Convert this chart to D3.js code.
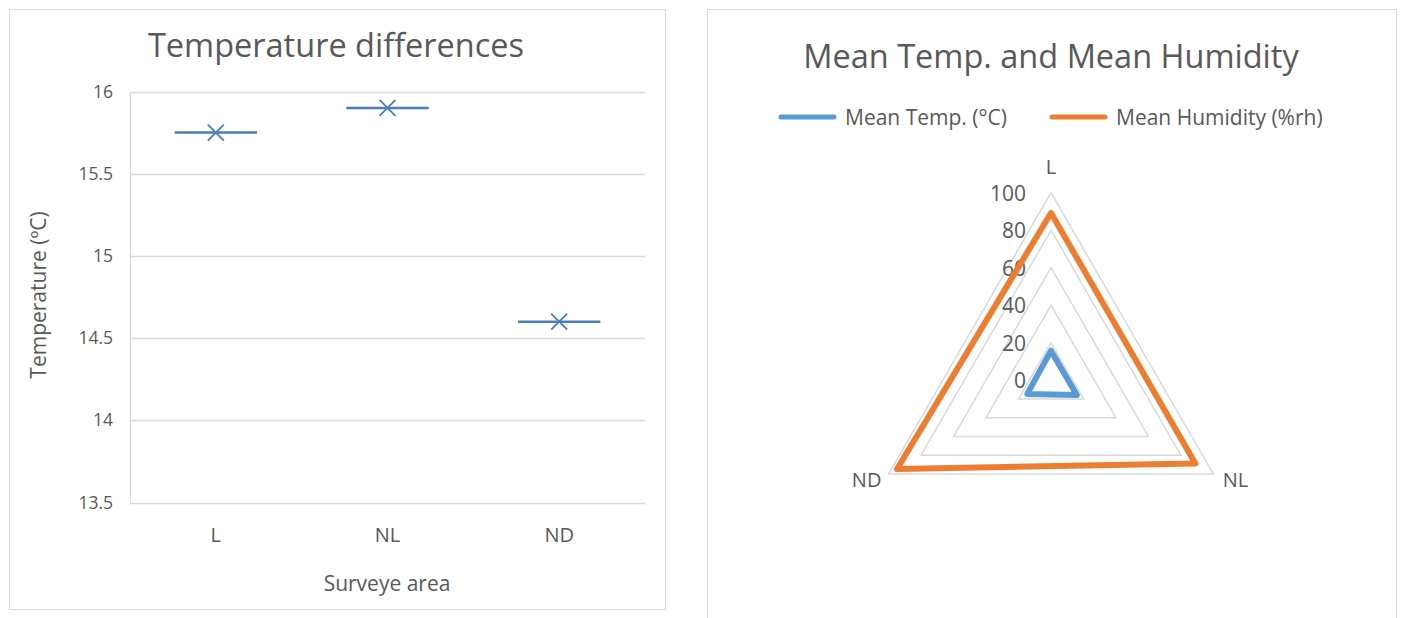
<!DOCTYPE html>
<html>
<head>
<meta charset="utf-8">
<script src="https://cdn.jsdelivr.net/npm/d3@7"></script>
<style>
  body { margin: 0; background: #fff; }
  svg { display: block; }
  text { font-family: "Open Sans", sans-serif; fill: #595959; }
</style>
</head>
<body>
<svg id="chart" width="1401" height="618"></svg>
<script>
// Survey areas and measured means
const areas = ["L", "NL", "ND"];
const meanTemp = [15.75, 15.90, 14.60];
const meanHumidity = [89.2, 88.9, 94.8];
const tempTicks = [13.5, 14, 14.5, 15, 15.5, 16];
const radarTicks = [0, 20, 40, 60, 80, 100];
const seriesNames = ["Mean Temp. (°C)", "Mean Humidity (%rh)"];
const seriesColors = ["#5B9BD5", "#ED7D31"];

const svg = d3.select("#chart");
const grid = "#d9d9d9";
const FONT = "\"Open Sans\", sans-serif";

// ---------- Left panel: temperature by area ----------
const left = svg.append("g");
left.append("rect").attr("x", 9.5).attr("y", 9.5).attr("width", 656).attr("height", 600)
  .attr("fill", "#fff").attr("stroke", grid).attr("stroke-width", 1);

left.append("text").attr("x", 336).attr("y", 44).attr("text-anchor", "middle")
  .attr("dominant-baseline", "central").style("font-size", "32.5px")
  .text("Temperature differences");

const x = d3.scaleBand().domain(areas).range([130, 645]).padding(0);
const y = d3.scaleLinear().domain([13.5, 16]).range([502.5, 91.5]);

// horizontal gridlines
left.append("g").selectAll("line").data(tempTicks).join("line")
  .attr("x1", 130).attr("x2", 645)
  .attr("y1", d => Math.round(y(d)) + 0.5).attr("y2", d => Math.round(y(d)) + 0.5)
  .attr("stroke", grid).attr("stroke-width", 1.3);

// value axis line
left.append("line").attr("x1", 130.5).attr("x2", 130.5)
  .attr("y1", y(16)).attr("y2", y(13.5)).attr("stroke", grid).attr("stroke-width", 1.3);

// tick labels
const yAxis = d3.axisLeft(y).tickValues(tempTicks).tickSize(0).tickPadding(17)
  .tickFormat(d3.format(""));
const ya = left.append("g").attr("transform", "translate(130,0)").call(yAxis);
ya.select(".domain").remove();
ya.selectAll("text").style("font-size", "17.5px").style("font-family", FONT).attr("fill", "#595959");

const xAxis = d3.axisBottom(x).tickSize(0).tickPadding(25);
const xa = left.append("g").attr("transform", "translate(0,502.5)").call(xAxis);
xa.select(".domain").remove();
xa.selectAll("text").style("font-size", "20px").style("font-family", FONT).attr("fill", "#595959");

left.append("text").attr("transform", "translate(38,295) rotate(-90)")
  .attr("text-anchor", "middle").attr("dominant-baseline", "central")
  .style("font-size", "21px").text("Temperature (ºC)");

left.append("text").attr("x", 387).attr("y", 583).attr("text-anchor", "middle")
  .attr("dominant-baseline", "central").style("font-size", "21px").text("Surveye area");

// dash + cross markers
const markColor = "#4a7ebb";
const marks = left.append("g").selectAll("g").data(areas.map((a, i) => ({ a, v: meanTemp[i] })))
  .join("g").attr("transform", d => `translate(${x(d.a) + x.bandwidth() / 2},${y(d.v)})`);
marks.append("line").attr("x1", -x.bandwidth() * 0.24).attr("x2", x.bandwidth() * 0.24)
  .attr("stroke", markColor).attr("stroke-width", 2.5);
marks.append("path").attr("d", "M-8,-8L8,8M-8,8L8,-8")
  .attr("stroke", markColor).attr("stroke-width", 1.8).attr("fill", "none");

// ---------- Right panel: radar of temperature and humidity ----------
const right = svg.append("g");
right.append("rect").attr("x", 707.5).attr("y", 9.5).attr("width", 689).attr("height", 640)
  .attr("fill", "#fff").attr("stroke", grid).attr("stroke-width", 1);

right.append("text").attr("x", 1051).attr("y", 55).attr("text-anchor", "middle")
  .attr("dominant-baseline", "central").style("font-size", "32.5px")
  .text("Mean Temp. and Mean Humidity");

// legend
const legendX = [781, 1052];
const leg = right.append("g").selectAll("g").data(seriesNames).join("g")
  .attr("transform", (d, i) => `translate(${legendX[i]},117)`);
leg.append("line").attr("x1", 0).attr("x2", 53).attr("stroke", (d, i) => seriesColors[i])
  .attr("stroke-width", 5).attr("stroke-linecap", "round");
leg.append("text").attr("x", 64).attr("dominant-baseline", "central")
  .style("font-size", "21px").text(d => d);

const cx = 1051, cy = 380.2, R = 187.5;
const r = d3.scaleLinear().domain([0, 100]).range([0, R]);
const angle = i => -Math.PI / 2 + i * 2 * Math.PI / areas.length;
const pt = (i, v) => [cx + r(v) * Math.cos(angle(i)), cy + r(v) * Math.sin(angle(i))];

// rings
right.append("g").selectAll("path").data(radarTicks.filter(t => t > 0)).join("path")
  .attr("d", t => "M" + areas.map((a, i) => pt(i, t).join(",")).join("L") + "Z")
  .attr("fill", "none").attr("stroke", grid).attr("stroke-width", 1.5);

// ring labels
right.append("g").selectAll("text").data(radarTicks).join("text")
  .attr("x", 1026).attr("y", t => cy - r(t)).attr("text-anchor", "end")
  .attr("dominant-baseline", "central").style("font-size", "21px").text(t => t);

// category labels
const labelOffset = [[0, -26], [22, 6], [-22, 6]];
right.append("g").selectAll("text").data(areas).join("text")
  .attr("x", (a, i) => pt(i, 100)[0] + labelOffset[i][0])
  .attr("y", (a, i) => pt(i, 100)[1] + labelOffset[i][1])
  .attr("text-anchor", "middle").attr("dominant-baseline", "central")
  .style("font-size", "20px").text(a => a);

// series polygons
const series = [meanTemp, meanHumidity];
right.append("g").selectAll("path").data(series).join("path")
  .attr("d", vals => "M" + vals.map((v, i) => pt(i, v).join(",")).join("L") + "Z")
  .attr("fill", "none").attr("stroke", (d, i) => seriesColors[i])
  .attr("stroke-width", 6).attr("stroke-linejoin", "round");
</script>
</body>
</html>
